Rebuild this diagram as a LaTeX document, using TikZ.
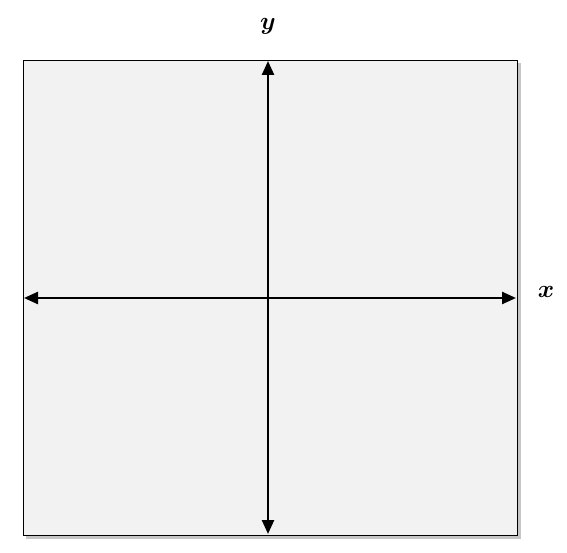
\documentclass[tikz,border=0pt]{standalone}
\usepackage{amsmath,bm}
\usetikzlibrary{arrows.meta}
\begin{document}
\begin{tikzpicture}[x=1pt,y=-1pt,
  ax/.style={line width=2.4pt,{Triangle[length=14pt,width=12pt]}-{Triangle[length=14pt,width=12pt]}},
  lbl/.style={font=\fontsize{30}{30}\selectfont}]
\useasboundingbox (0,0) rectangle (567,553);
\fill[white] (0,0) rectangle (567,553);
\fill[gray!45] (26,63) rectangle (521,539);
\node[draw=black,line width=1.4pt,fill=black!5,minimum width=494pt,minimum height=475pt,inner sep=0pt,anchor=north west] (box) at (23,60) {};
\coordinate (top) at (268,61);
\coordinate (bot) at (268,534);
\coordinate (lft) at (24,298);
\coordinate (rgt) at (516,298);
\draw[ax] (bot) -- (top);
\draw[ax] (lft) -- (rgt);
\node[lbl] (ly) at (268,26) {$\bm{y}$};
\node[lbl] (lx) at (546,292) {$\bm{x}$};
\end{tikzpicture}
\end{document}
